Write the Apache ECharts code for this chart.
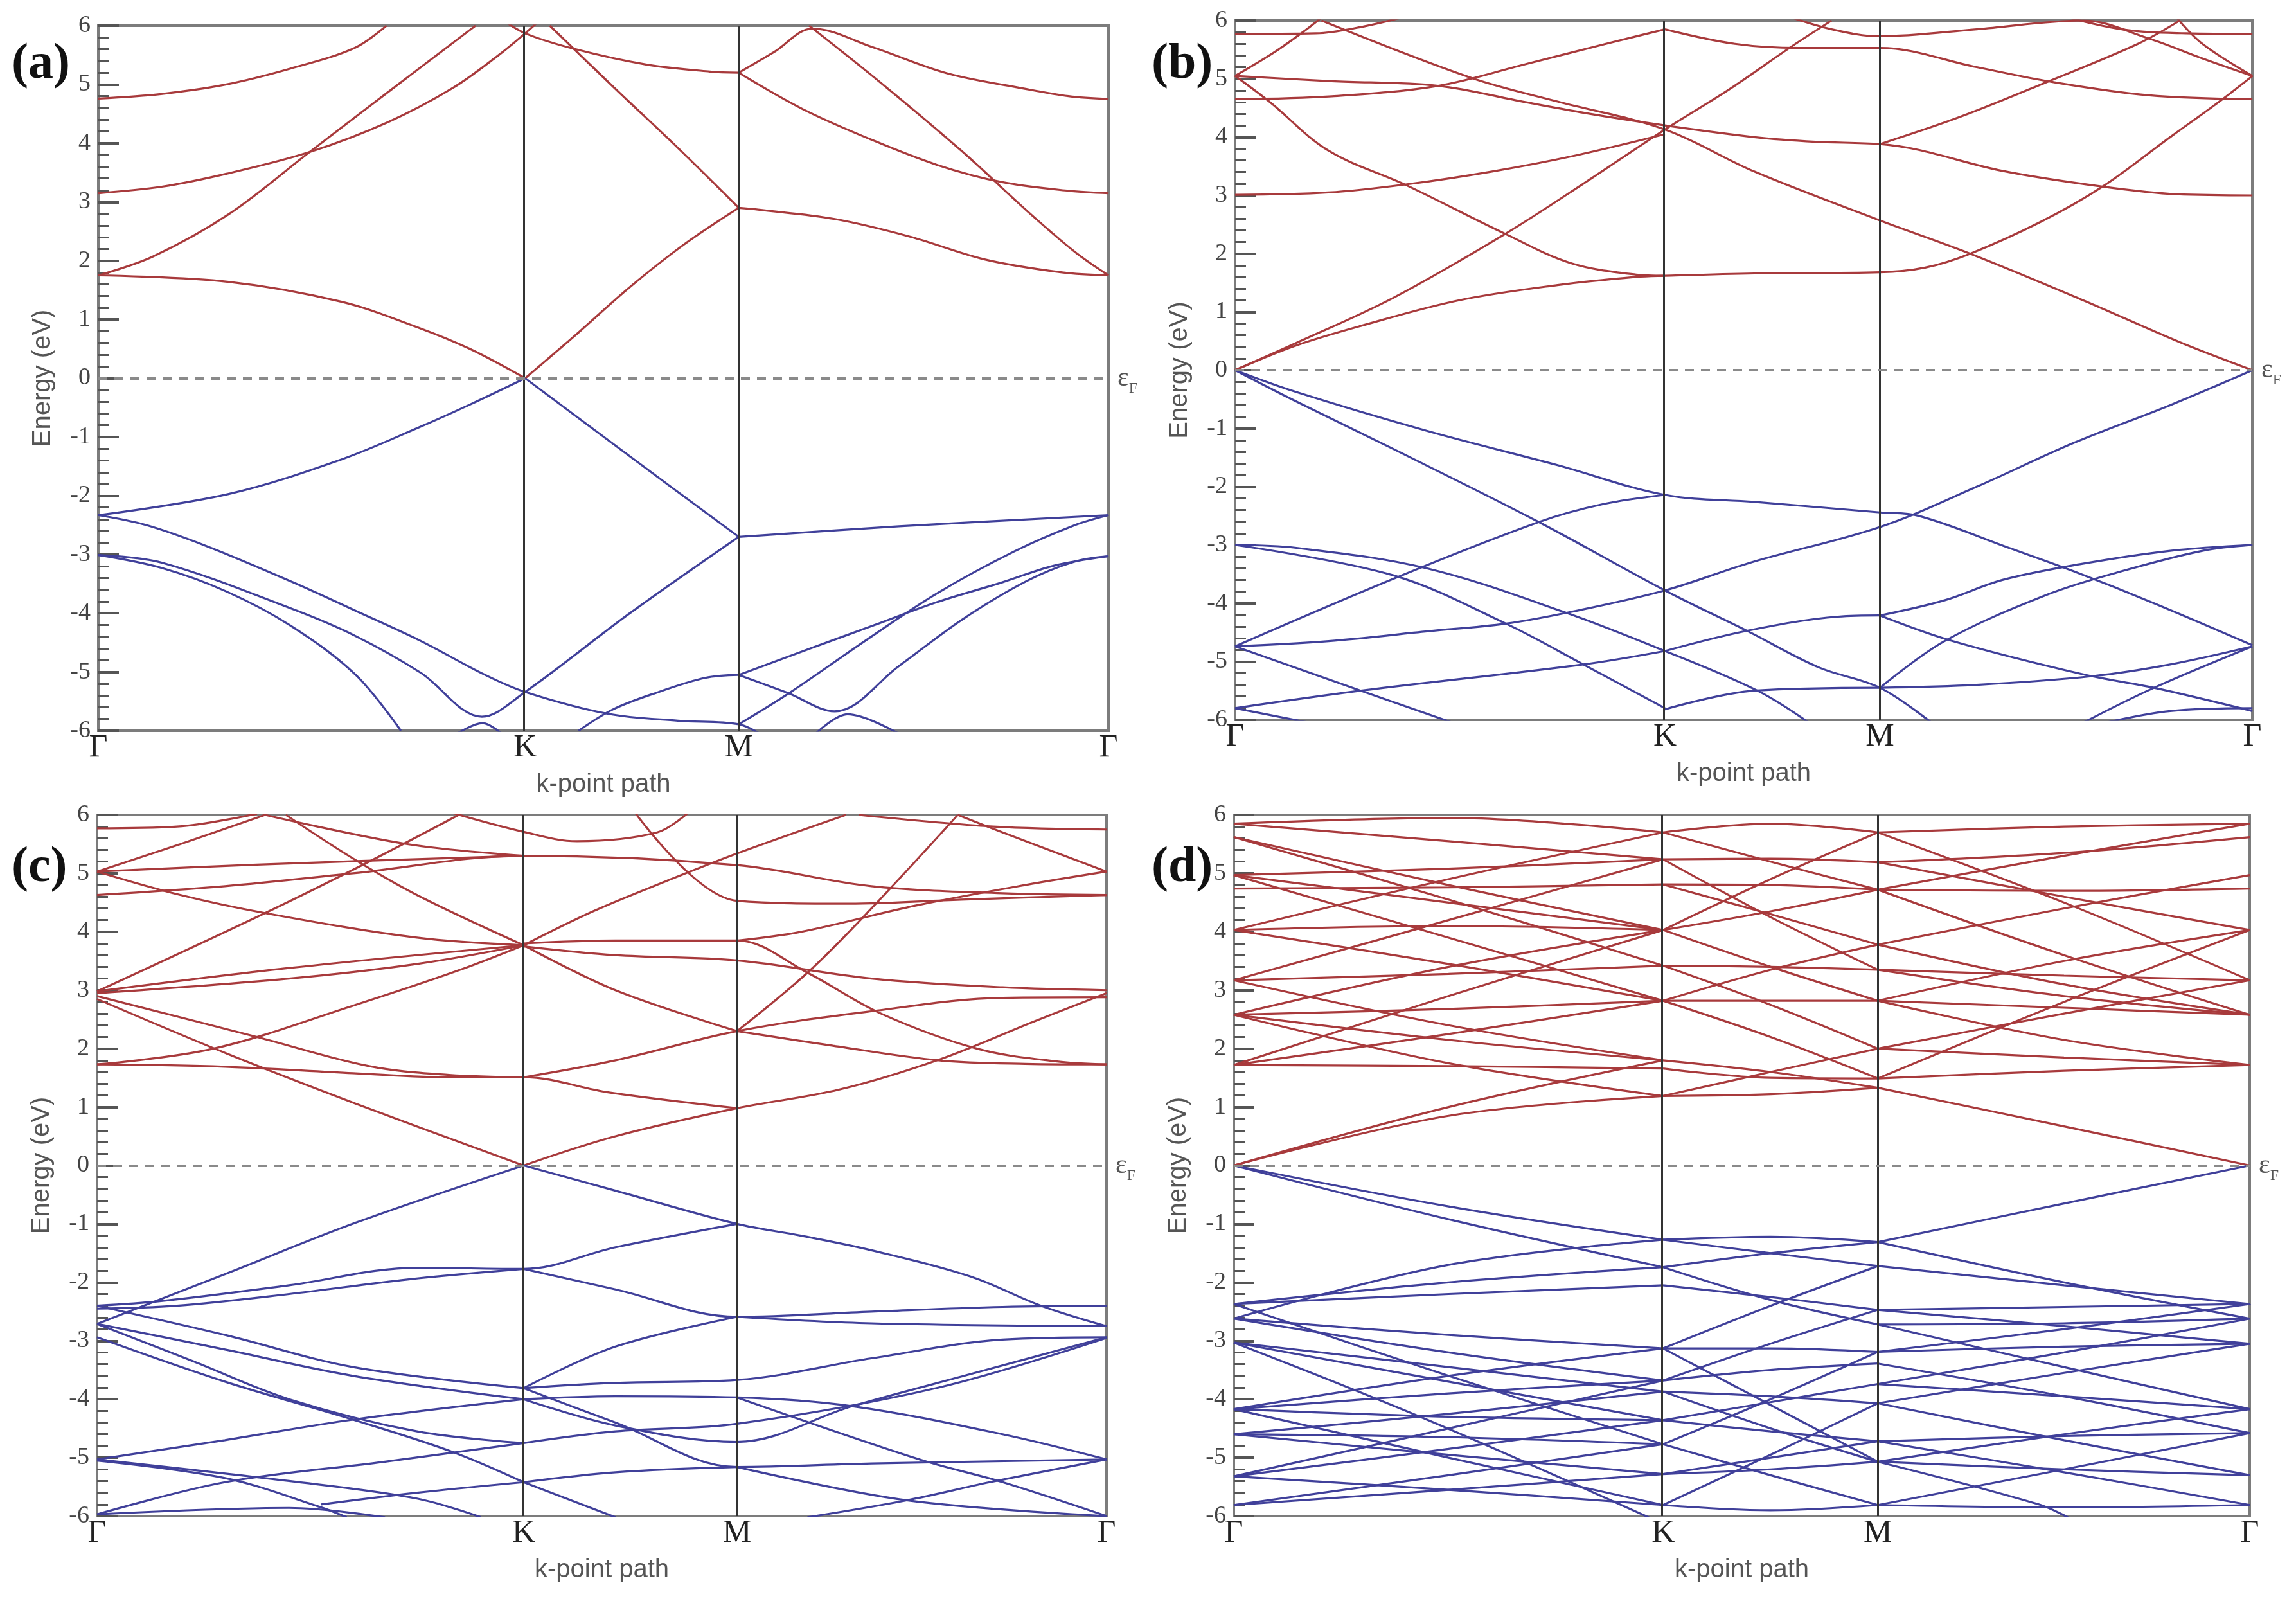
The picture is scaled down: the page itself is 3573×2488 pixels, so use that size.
<!DOCTYPE html>
<html>
<head>
<meta charset="utf-8">
<script src="https://cdn.jsdelivr.net/npm/echarts@6.0.0/dist/echarts.min.js"></script>
<style>
  html, body { margin: 0; padding: 0; background: #fff; }
  #chart { width: 3573px; height: 2488px; }
</style>
</head>
<body>
<div id="chart"></div>
<script>
// k-path positions (Γ-K-M-Γ) and their labels
var kTicks = [0, 1.3333, 2.0, 3.1547];
var kLabels = ['Γ', 'K', 'M', 'Γ'];
var eTicks = [-6, 6, 1];
var panelNames = ['(a)', '(b)', '(c)', '(d)'];

// ---- panel (a) ----
var aCond = [
  [[0,1.75],[0.407,1.64],[0.76,1.3],[1.0,0.86],[1.16,0.5],[1.333,0]],
  [[1.333,0],[1.5,0.78],[1.66,1.55],[1.83,2.28],[2.0,2.9]],
  [[2.0,2.9],[2.06,2.87],[2.3,2.71],[2.535,2.41],[2.77,2.02],[3.01,1.8],[3.155,1.75]],
  [[1.41,6.0],[1.61,4.95],[1.81,3.92],[2.0,2.9]],
  [[0,4.76],[0.2,4.84],[0.4,5.0],[0.6,5.27],[0.8,5.62],[0.9,6.0]],
  [[0,3.15],[0.198,3.26],[0.4,3.48],[0.66,3.85],[0.905,4.36],[1.107,4.94],[1.248,5.49],[1.333,5.87],[1.38,6.1]],
  [[0,1.75],[0.17,2.07],[0.407,2.79],[0.66,3.85],[0.9,4.85],[1.178,6.0]],
  [[1.25,6.15],[1.333,5.87],[1.49,5.6],[1.71,5.34],[1.91,5.22],[2.0,5.2]],
  [[2.0,5.2],[2.11,5.55],[2.23,5.95],[2.42,5.63],[2.65,5.19],[2.89,4.93],[3.03,4.8],[3.155,4.75]],
  [[2.22,6.0],[2.45,5.0],[2.7,3.85],[2.9,2.85],[3.05,2.15],[3.155,1.75]],
  [[2.0,5.2],[2.2,4.58],[2.41,4.07],[2.62,3.63],[2.82,3.34],[3.03,3.19],[3.155,3.15]]
];
var aVal = [
  [[0,-2.33],[0.407,-1.97],[0.76,-1.38],[1.0,-0.84],[1.16,-0.45],[1.333,0]],
  [[1.333,0],[1.66,-1.33],[2.0,-2.7]],
  [[2.0,-2.7],[2.5,-2.52],[3.155,-2.33]],
  [[0,-2.33],[0.15,-2.5],[0.339,-2.86],[0.602,-3.46],[0.804,-3.96],[1.006,-4.47],[1.208,-5.05],[1.333,-5.34],[1.59,-5.71],[1.81,-5.83],[2.0,-5.89],[2.08,-6.1]],
  [[0,-3.01],[0.198,-3.14],[0.602,-3.92],[0.804,-4.39],[1.006,-5.01],[1.198,-5.76],[1.333,-5.34],[1.66,-4.0],[2.0,-2.7]],
  [[0,-3.01],[0.198,-3.23],[0.4,-3.63],[0.6,-4.21],[0.804,-5.05],[0.945,-6.0]],
  [[1.12,-6.05],[1.2,-5.87],[1.26,-6.05]],
  [[1.5,-6.0],[1.61,-5.63],[1.75,-5.34],[1.895,-5.1],[2.0,-5.05]],
  [[2.0,-5.05],[2.218,-4.61],[2.42,-4.21],[2.62,-3.81],[2.82,-3.48],[2.985,-3.19],[3.155,-3.03]],
  [[2.0,-5.89],[2.16,-5.35],[2.4,-4.45],[2.62,-3.66],[2.86,-2.95],[3.05,-2.5],[3.155,-2.33]],
  [[2.0,-5.05],[2.15,-5.35],[2.3,-5.67],[2.5,-4.9],[2.7,-4.1],[2.9,-3.45],[3.05,-3.12],[3.155,-3.03]],
  [[2.24,-6.05],[2.34,-5.72],[2.5,-6.05]]
];

// ---- panel (b) ----
var bCond = [
  [[0,5.77],[0.25,5.78],[0.4,5.9],[0.55,6.1]],
  [[2.55,6.1],[2.75,5.85],[2.95,5.78],[3.155,5.77]],
  [[0,5.05],[0.12,5.45],[0.21,5.8],[0.268,6.05]],
  [[0,5.05],[0.3,4.96],[0.63,4.88],[0.9,4.6],[1.1,4.4],[1.333,4.2]],
  [[0,4.65],[0.3,4.7],[0.63,4.88],[0.9,5.25],[1.15,5.6],[1.333,5.85]],
  [[0,5.05],[0.106,4.61],[0.289,3.77],[0.533,3.17],[0.838,2.34],[1.04,1.84],[1.244,1.64],[1.333,1.62]],
  [[0.268,6.0],[0.736,5.01],[1.0,4.61],[1.333,4.13],[1.61,3.41],[2.0,2.57],[2.28,2.0],[2.63,1.2],[2.93,0.48],[3.155,0]],
  [[0,0],[0.187,0.46],[0.49,1.24],[0.838,2.34],[1.08,3.2],[1.333,4.13],[1.53,4.81],[1.73,5.57],[1.85,6.0]],
  [[0,0],[0.187,0.42],[0.39,0.76],[0.695,1.2],[1.0,1.46],[1.244,1.6],[1.333,1.62],[1.61,1.66],[2.0,1.68],[2.14,1.76],[2.28,2.0],[2.5,2.55],[2.69,3.15],[2.9,4.0],[3.05,4.6],[3.155,5.05]],
  [[0,3.01],[0.289,3.05],[0.533,3.19],[0.797,3.41],[1.06,3.69],[1.333,4.05]],
  [[1.333,4.2],[1.61,4.0],[1.8,3.92],[2.0,3.88],[2.12,3.78],[2.38,3.42],[2.69,3.15],[2.92,3.02],[3.155,3.0]],
  [[2.0,3.88],[2.25,4.35],[2.52,4.95],[2.8,5.6],[2.93,6.0]],
  [[1.333,5.85],[1.55,5.6],[1.75,5.53],[2.0,5.53],[2.3,5.2],[2.53,4.95],[2.83,4.72],[3.155,4.65]],
  [[1.7,6.1],[1.85,5.85],[2.0,5.73],[2.3,5.85],[2.63,6.0],[2.83,5.7],[3.0,5.35],[3.155,5.05]],
  [[3.155,5.05],[3.0,5.6],[2.92,6.05]]
];
var bVal = [
  [[0,0],[0.187,-0.37],[0.594,-1.04],[1.0,-1.63],[1.333,-2.14],[1.61,-2.26],[2.0,-2.44],[2.12,-2.5],[2.4,-3.05],[2.6,-3.45],[2.85,-4.0],[3.155,-4.72]],
  [[0,0],[0.187,-0.53],[0.49,-1.35],[0.94,-2.6],[1.333,-3.78],[1.59,-4.48],[1.81,-5.1],[2.0,-5.45],[2.16,-6.05]],
  [[0,-4.74],[0.5,-3.56],[0.945,-2.6],[1.14,-2.3],[1.333,-2.14]],
  [[0,-4.74],[0.29,-4.65],[0.6,-4.48],[0.84,-4.35],[1.04,-4.15],[1.333,-3.78],[1.6,-3.3],[2.0,-2.69],[2.3,-2.0],[2.6,-1.25],[2.9,-0.6],[3.155,0]],
  [[0,-3.0],[0.19,-3.05],[0.594,-3.4],[1.02,-4.15],[1.333,-4.82]],
  [[0,-3.0],[0.49,-3.52],[0.84,-4.35],[1.08,-5.05],[1.333,-5.8]],
  [[1.333,-4.82],[1.59,-4.47],[1.87,-4.23],[2.0,-4.21]],
  [[1.333,-4.82],[1.62,-5.5],[1.78,-6.05]],
  [[1.333,-5.82],[1.61,-5.5],[2.0,-5.45]],
  [[2.0,-4.21],[2.2,-3.95],[2.38,-3.6],[2.62,-3.33],[2.9,-3.1],[3.155,-3.0]],
  [[2.0,-4.21],[2.22,-4.64],[2.63,-5.22],[2.85,-5.45],[3.155,-5.85]],
  [[2.0,-5.45],[2.3,-5.4],[2.66,-5.25],[2.9,-5.05],[3.155,-4.74]],
  [[2.0,-5.45],[2.2,-4.65],[2.52,-3.85],[2.75,-3.45],[3.0,-3.1],[3.155,-3.0]],
  [[3.155,-4.74],[2.85,-5.45],[2.63,-6.05]],
  [[2.7,-6.05],[2.9,-5.85],[3.155,-5.8]],
  [[0,-4.74],[0.39,-5.5],[0.675,-6.05]],
  [[0,-5.8],[0.39,-5.5],[1.08,-5.05],[1.333,-4.82]],
  [[0,-5.8],[0.23,-6.05]]
];

// ---- panel (c) ----
var cCond = [
  [[0,2.98],[0.6,3.38],[1.333,3.77]],
  [[0,2.95],[0.6,3.2],[1.0,3.45],[1.333,3.77]],
  [[0,2.98],[0.525,4.32],[0.85,5.2],[1.13,6.0]],
  [[0,2.85],[0.404,1.92],[0.808,1.06],[1.333,0]],
  [[0,1.73],[0.364,2.0],[0.808,2.75],[1.13,3.34],[1.333,3.77]],
  [[0,1.73],[0.4,1.69],[0.8,1.58],[1.11,1.51],[1.333,1.51],[1.6,1.25],[2.0,0.98]],
  [[1.333,0],[1.62,0.5],[2.0,0.98],[2.32,1.3],[2.63,1.81],[2.93,2.47],[3.155,2.95]],
  [[0,2.9],[0.5,2.2],[0.85,1.7],[1.1,1.55],[1.333,1.51]],
  [[1.333,1.51],[1.62,1.8],[2.0,2.3],[2.42,2.64],[2.83,2.87],[3.155,2.88]],
  [[2.0,2.3],[2.3,2.05],[2.63,1.8],[2.9,1.74],[3.155,1.73]],
  [[1.333,3.77],[1.62,3.0],[2.0,2.3]],
  [[1.333,3.75],[1.62,3.6],[2.0,3.51],[2.42,3.2],[2.83,3.05],[3.155,3.0]],
  [[1.333,3.8],[1.62,3.85],[2.0,3.85],[2.22,3.3],[2.45,2.6],[2.75,2.0],[3.0,1.78],[3.155,1.73]],
  [[2.0,3.85],[2.2,4.0],[2.56,4.45],[2.9,4.8],[3.155,5.03]],
  [[1.333,3.77],[1.55,4.35],[1.78,4.87],[2.0,5.34],[2.34,6.0]],
  [[1.333,3.77],[1.01,4.6],[0.81,5.22],[0.59,6.0]],
  [[0,5.77],[0.25,5.8],[0.5,6.02]],
  [[0,5.03],[0.26,5.5],[0.525,6.0]],
  [[0,5.03],[0.26,4.63],[0.525,4.32],[1.0,3.9],[1.333,3.77]],
  [[0,4.63],[0.4,4.78],[0.8,5.0],[1.333,5.3],[2.0,5.14],[2.42,4.78],[2.83,4.66],[3.155,4.63]],
  [[0,5.03],[0.5,5.15],[1.333,5.3]],
  [[0.525,6.0],[0.97,5.5],[1.333,5.3]],
  [[1.1,6.05],[1.333,5.71],[1.5,5.55],[1.75,5.7],[1.85,6.05]],
  [[3.155,5.03],[2.83,5.7],[2.69,6.0]],
  [[2.38,6.0],[2.8,5.8],[3.155,5.75]],
  [[1.68,6.05],[2.0,4.53],[2.35,4.48],[2.7,4.55],[3.155,4.63]],
  [[2.0,2.3],[2.22,3.3],[2.42,4.4],[2.69,6.0]]
];
var cVal = [
  [[1.333,0],[0.808,-0.98],[0.404,-1.85],[0,-2.71]],
  [[1.333,0],[1.62,-0.43],[2.0,-1.0],[2.2,-1.2],[2.42,-1.45],[2.73,-1.9],[2.95,-2.4],[3.155,-2.75]],
  [[2.0,-1.0],[1.62,-1.4],[1.333,-1.77],[1.0,-1.75],[0.6,-2.05],[0.2,-2.32],[0,-2.4]],
  [[1.333,-1.77],[0.97,-1.95],[0.6,-2.2],[0.25,-2.4],[0,-2.45]],
  [[1.333,-1.77],[1.62,-2.12],[2.0,-2.59],[2.42,-2.5],[2.83,-2.42],[3.155,-2.4]],
  [[2.0,-2.59],[2.42,-2.7],[3.155,-2.75]],
  [[2.0,-2.59],[1.62,-3.1],[1.333,-3.81]],
  [[0,-2.4],[0.4,-2.9],[0.8,-3.45],[1.333,-3.81]],
  [[0,-2.71],[0.4,-3.15],[0.8,-3.6],[1.333,-4.0]],
  [[0,-2.94],[0.4,-3.7],[0.8,-4.35],[1.11,-4.9],[1.333,-5.42]],
  [[0,-2.71],[0.3,-3.35],[0.6,-4.0],[1.0,-4.55],[1.333,-4.75]],
  [[1.333,-3.81],[1.62,-3.72],[2.0,-3.67],[2.42,-3.3],[2.83,-2.98],[3.155,-2.94]],
  [[1.333,-4.0],[1.62,-3.95],[2.0,-3.97],[2.36,-4.12],[2.83,-4.6],[3.155,-5.03]],
  [[1.333,-3.81],[1.62,-4.4],[2.0,-5.16],[2.42,-5.1],[3.155,-5.03]],
  [[1.333,-4.0],[1.62,-4.45],[2.0,-4.73],[2.36,-4.12],[2.73,-3.57],[3.155,-2.94]],
  [[1.333,-4.75],[1.62,-4.55],[2.0,-4.42],[2.63,-3.8],[3.155,-2.95]],
  [[1.333,-5.42],[1.62,-5.25],[2.0,-5.16]],
  [[0,-5.03],[0.4,-4.7],[0.8,-4.35],[1.333,-4.0]],
  [[0,-5.03],[0.6,-5.4],[1.0,-5.7],[1.2,-6.02]],
  [[0,-5.97],[0.4,-5.42],[0.9,-5.07],[1.333,-4.75]],
  [[0,-5.05],[0.4,-5.35],[0.7,-5.85],[0.78,-6.02]],
  [[0.7,-5.8],[1.0,-5.6],[1.333,-5.42]],
  [[0,-5.97],[0.6,-5.86],[0.9,-6.02]],
  [[1.333,-5.42],[1.62,-6.02]],
  [[3.155,-5.03],[2.79,-5.42],[2.53,-5.73],[2.22,-6.02]],
  [[2.0,-5.16],[2.53,-5.73],[3.155,-6.0]],
  [[2.0,-3.97],[2.57,-5.03],[2.83,-5.42],[3.155,-6.0]]
];

// ---- panel (d) ----
var dCond = [
  [[0,0],[0.667,0.85],[1.333,1.19]],
  [[0,0],[0.667,1.0],[1.333,1.8]],
  [[0,1.72],[0.667,1.7],[1.333,1.66]],
  [[0,1.72],[0.667,2.25],[1.333,2.82]],
  [[0,2.58],[0.667,1.75],[1.333,1.19]],
  [[0,2.58],[0.667,2.15],[1.333,1.8]],
  [[0,2.58],[0.667,2.68],[1.333,2.82]],
  [[0,2.58],[0.667,3.4],[1.333,4.03]],
  [[0,3.17],[0.667,3.28],[1.333,3.42]],
  [[0,3.17],[0.667,2.4],[1.333,1.8]],
  [[0,4.03],[0.667,3.45],[1.333,2.82]],
  [[0,4.03],[0.667,4.1],[1.333,4.03]],
  [[0,4.03],[0.667,4.9],[1.333,5.7]],
  [[0,4.74],[0.667,4.76],[1.333,4.81]],
  [[0,4.97],[0.667,4.5],[1.333,4.03]],
  [[0,4.97],[0.667,5.08],[1.333,5.24]],
  [[0,4.97],[0.667,3.9],[1.333,2.82]],
  [[0,5.62],[0.667,4.8],[1.333,4.03]],
  [[0,5.62],[0.667,4.55],[1.333,3.42]],
  [[0,5.85],[0.667,5.55],[1.333,5.24]],
  [[0,3.17],[0.667,4.2],[1.333,5.24]],
  [[0,1.72],[0.667,2.9],[1.333,4.03]],
  [[0,5.85],[0.667,5.95],[1.333,5.7]],
  [[1.333,1.19],[1.667,1.22],[2.0,1.33]],
  [[1.333,1.66],[1.667,1.5],[2.0,1.49]],
  [[1.333,1.8],[1.667,1.6],[2.0,1.33]],
  [[1.333,1.19],[1.667,1.6],[2.0,2.0]],
  [[1.333,2.82],[1.667,2.2],[2.0,1.49]],
  [[1.333,2.82],[1.667,2.82],[2.0,2.82]],
  [[1.333,2.82],[1.667,3.35],[2.0,3.78]],
  [[1.333,3.42],[1.667,3.4],[2.0,3.35]],
  [[1.333,3.42],[1.667,2.75],[2.0,2.0]],
  [[1.333,4.03],[1.667,3.4],[2.0,2.82]],
  [[1.333,4.03],[1.667,4.35],[2.0,4.72]],
  [[1.333,4.81],[1.667,4.3],[2.0,3.78]],
  [[1.333,4.81],[1.667,4.8],[2.0,4.72]],
  [[1.333,5.24],[1.667,5.25],[2.0,5.19]],
  [[1.333,5.24],[1.667,4.25],[2.0,3.35]],
  [[1.333,5.7],[1.667,5.2],[2.0,4.72]],
  [[1.333,4.03],[1.667,4.9],[2.0,5.7]],
  [[1.333,5.7],[1.667,5.85],[2.0,5.7]],
  [[2.0,1.33],[2.578,0.67],[3.155,0]],
  [[2.0,1.49],[2.578,1.62],[3.155,1.72]],
  [[2.0,2.0],[2.578,1.85],[3.155,1.72]],
  [[2.0,2.0],[2.578,2.6],[3.155,3.17]],
  [[2.0,2.82],[2.578,2.15],[3.155,1.72]],
  [[2.0,2.82],[2.578,2.7],[3.155,2.58]],
  [[2.0,2.82],[2.578,3.5],[3.155,4.03]],
  [[2.0,3.35],[2.578,3.25],[3.155,3.17]],
  [[2.0,3.35],[2.578,2.9],[3.155,2.58]],
  [[2.0,3.78],[2.578,3.1],[3.155,2.58]],
  [[2.0,3.78],[2.578,4.4],[3.155,4.97]],
  [[2.0,4.72],[2.578,4.7],[3.155,4.74]],
  [[2.0,4.72],[2.578,3.6],[3.155,2.58]],
  [[2.0,5.19],[2.578,4.6],[3.155,4.03]],
  [[2.0,5.19],[2.578,5.35],[3.155,5.62]],
  [[2.0,5.7],[2.578,4.5],[3.155,3.17]],
  [[2.0,1.49],[2.578,2.8],[3.155,4.03]],
  [[2.0,5.7],[2.578,5.8],[3.155,5.85]],
  [[2.0,4.72],[2.578,5.3],[3.155,5.85]]
];
var dVal = [
  [[0,0],[0.667,-0.7],[1.333,-1.27]],
  [[0,0],[0.667,-0.92],[1.333,-1.74]],
  [[0,-2.62],[0.667,-1.7],[1.333,-1.27]],
  [[0,-2.37],[0.667,-2.2],[1.333,-2.05]],
  [[0,-2.37],[0.667,-2.0],[1.333,-1.74]],
  [[0,-2.62],[0.667,-2.9],[1.333,-3.13]],
  [[0,-2.62],[0.667,-3.2],[1.333,-3.68]],
  [[0,-3.03],[0.667,-3.45],[1.333,-3.87]],
  [[0,-3.03],[0.667,-3.7],[1.333,-4.36]],
  [[0,-2.37],[0.667,-3.6],[1.333,-4.77]],
  [[0,-4.17],[0.667,-3.6],[1.333,-3.13]],
  [[0,-4.17],[0.667,-3.9],[1.333,-3.68]],
  [[0,-4.17],[0.667,-4.3],[1.333,-4.36]],
  [[0,-4.6],[0.667,-4.25],[1.333,-3.87]],
  [[0,-4.6],[0.667,-4.95],[1.333,-5.28]],
  [[0,-4.6],[0.667,-4.65],[1.333,-4.77]],
  [[0,-5.32],[0.667,-4.85],[1.333,-4.36]],
  [[0,-5.32],[0.667,-5.55],[1.333,-5.81]],
  [[0,-5.32],[0.667,-4.5],[1.333,-3.68]],
  [[0,-5.81],[0.667,-5.3],[1.333,-4.77]],
  [[0,-5.81],[0.667,-5.55],[1.333,-5.28]],
  [[0,-3.03],[0.6,-4.35],[1.3,-6.05]],
  [[0,-4.17],[0.667,-5.0],[1.333,-5.81]],
  [[1.333,-1.27],[1.667,-1.22],[2.0,-1.31]],
  [[1.333,-1.27],[1.667,-1.5],[2.0,-1.72]],
  [[1.333,-1.74],[1.667,-1.5],[2.0,-1.31]],
  [[1.333,-1.74],[1.667,-2.3],[2.0,-2.72]],
  [[1.333,-2.05],[1.667,-2.25],[2.0,-2.47]],
  [[1.333,-3.13],[1.667,-2.4],[2.0,-1.72]],
  [[1.333,-3.13],[1.667,-3.13],[2.0,-3.19]],
  [[1.333,-3.68],[1.667,-3.05],[2.0,-2.47]],
  [[1.333,-3.68],[1.667,-3.5],[2.0,-3.39]],
  [[1.333,-3.87],[1.667,-3.95],[2.0,-4.07]],
  [[1.333,-3.87],[1.667,-4.5],[2.0,-5.07]],
  [[1.333,-4.36],[1.667,-4.05],[2.0,-3.74]],
  [[1.333,-4.36],[1.667,-4.55],[2.0,-4.72]],
  [[1.333,-4.77],[1.667,-4.0],[2.0,-3.19]],
  [[1.333,-4.77],[1.667,-5.3],[2.0,-5.81]],
  [[1.333,-5.28],[1.667,-5.0],[2.0,-4.72]],
  [[1.333,-5.28],[1.667,-5.2],[2.0,-5.07]],
  [[1.333,-5.81],[1.667,-4.95],[2.0,-4.07]],
  [[1.333,-3.13],[1.667,-4.1],[2.0,-5.07]],
  [[1.333,-5.81],[1.667,-5.9],[2.0,-5.81]],
  [[2.0,-1.31],[2.578,-0.65],[3.155,0]],
  [[2.0,-1.31],[2.578,-2.0],[3.155,-2.62]],
  [[2.0,-1.72],[2.578,-2.05],[3.155,-2.37]],
  [[2.0,-2.47],[2.578,-2.42],[3.155,-2.37]],
  [[2.0,-2.47],[2.578,-2.75],[3.155,-3.05]],
  [[2.0,-2.72],[2.578,-2.7],[3.155,-2.62]],
  [[2.0,-2.72],[2.578,-3.45],[3.155,-4.17]],
  [[2.0,-3.19],[2.578,-2.8],[3.155,-2.37]],
  [[2.0,-3.19],[2.578,-3.1],[3.155,-3.05]],
  [[2.0,-3.39],[2.578,-3.95],[3.155,-4.58]],
  [[2.0,-3.74],[2.578,-3.2],[3.155,-2.62]],
  [[2.0,-3.74],[2.578,-3.95],[3.155,-4.17]],
  [[2.0,-4.07],[2.578,-4.7],[3.155,-5.3]],
  [[2.0,-4.07],[2.578,-3.55],[3.155,-3.05]],
  [[2.0,-4.72],[2.578,-4.63],[3.155,-4.58]],
  [[2.0,-4.72],[2.578,-5.25],[3.155,-5.81]],
  [[2.0,-5.07],[2.578,-4.6],[3.155,-4.17]],
  [[2.0,-5.07],[2.578,-5.2],[3.155,-5.3]],
  [[2.0,-5.81],[2.578,-5.2],[3.155,-4.58]],
  [[2.0,-5.81],[2.578,-5.85],[3.155,-5.81]],
  [[2.0,-5.07],[2.5,-5.8],[2.6,-6.05]]
];

var condSets = [aCond, bCond, cCond, dCond];
var valSets = [aVal, bVal, cVal, dVal];

// plot boxes in page pixels
var boxes = [
  {left: 153, top: 40, width: 1572, height: 1097},
  {left: 1922, top: 32, width: 1583, height: 1088},
  {left: 151, top: 1268, width: 1571, height: 1091},
  {left: 1920, top: 1268, width: 1581, height: 1091}
];
// where the (a)..(d) tags sit
var tagPos = [[18, 62], [1792, 62], [18, 1312], [1792, 1312]];

var redColor = '#a83a3c';
var blueColor = '#40409a';
var serif = 'Liberation Serif';
var sans = 'Liberation Sans';

var grids = [], xAxes = [], yAxes = [], series = [], graphics = [];

boxes.forEach(function (b, i) {
  grids.push({
    left: b.left, top: b.top, width: b.width, height: b.height,
    show: true, borderColor: '#7c7c7c', borderWidth: 4, backgroundColor: 'transparent'
  });
  xAxes.push({
    gridIndex: i, type: 'value', min: kTicks[0], max: kTicks[kTicks.length - 1],
    axisLine: {show: false}, axisTick: {show: false}, splitLine: {show: false},
    axisLabel: {
      customValues: kTicks, showMinLabel: true, showMaxLabel: true,
      fontFamily: serif, fontSize: 50, color: '#222', margin: 2,
      formatter: function (v) {
        for (var j = 0; j < kTicks.length; j++) {
          if (Math.abs(v - kTicks[j]) < 1e-3) return kLabels[j];
        }
        return '';
      }
    },
    name: 'k-point path', nameLocation: 'middle', nameGap: 64,
    nameTextStyle: {fontFamily: sans, fontSize: 40, color: '#555'}
  });
  yAxes.push({
    gridIndex: i, type: 'value', min: eTicks[0], max: eTicks[1], interval: eTicks[2],
    axisLine: {show: false}, splitLine: {show: false},
    axisTick: {show: true, inside: true, length: 32, lineStyle: {color: '#555', width: 4}},
    minorTick: {show: true, splitNumber: 5, length: 17, lineStyle: {color: '#555', width: 3}},
    axisLabel: {fontFamily: serif, fontSize: 38, color: '#444', margin: 12},
    name: 'Energy (eV)', nameLocation: 'middle', nameGap: 66, nameRotate: 90,
    nameTextStyle: {fontFamily: sans, fontSize: 40, color: '#555'}
  });

  condSets[i].forEach(function (line) {
    series.push({
      type: 'line', xAxisIndex: i, yAxisIndex: i, data: line,
      showSymbol: false, smooth: 0.35, silent: true, clip: true, z: 3,
      lineStyle: {color: redColor, width: 3.2}
    });
  });
  valSets[i].forEach(function (line) {
    series.push({
      type: 'line', xAxisIndex: i, yAxisIndex: i, data: line,
      showSymbol: false, smooth: 0.35, silent: true, clip: true, z: 3,
      lineStyle: {color: blueColor, width: 3.2}
    });
  });

  // K and M dividers plus the dashed Fermi level
  series.push({
    type: 'line', xAxisIndex: i, yAxisIndex: i, data: [], silent: true, z: 2,
    markLine: {
      silent: true, symbol: 'none', animation: false,
      data: [
        {xAxis: kTicks[1], lineStyle: {color: '#333', width: 3, type: 'solid'}, label: {show: false}},
        {xAxis: kTicks[2], lineStyle: {color: '#333', width: 3, type: 'solid'}, label: {show: false}},
        {
          yAxis: 0, lineStyle: {color: '#8a8a8a', width: 4, type: [14, 11]},
          label: {
            show: true, position: 'end', distance: 14,
            formatter: '{e|ε}{f|F}',
            rich: {
              e: {fontFamily: serif, fontSize: 42, color: '#555'},
              f: {fontFamily: serif, fontSize: 24, color: '#555', padding: [32, 0, 0, 0]}
            }
          }
        }
      ]
    }
  });

  graphics.push({
    type: 'text', left: tagPos[i][0], top: tagPos[i][1],
    style: {text: panelNames[i], font: 'bold 78px "Liberation Serif"', fill: '#111'}
  });
});

var chart = echarts.init(document.getElementById('chart'), null, {renderer: 'canvas'});
chart.setOption({
  backgroundColor: '#fff',
  animation: false,
  grid: grids,
  xAxis: xAxes,
  yAxis: yAxes,
  series: series,
  graphic: graphics
});
</script>
</body>
</html>
